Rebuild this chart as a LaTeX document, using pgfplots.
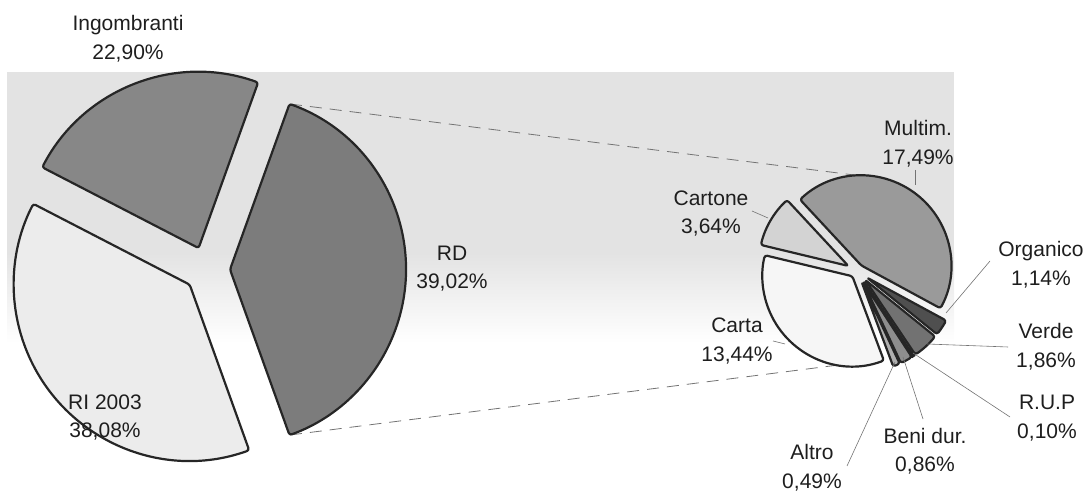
\documentclass[border=0pt]{standalone}
\usepackage{pgfplots}
\pgfplotsset{compat=1.18}
\usepackage{fontspec}
\setmainfont{Liberation Sans}

\definecolor{outl}{HTML}{262626}
\definecolor{txt}{HTML}{1E1E1E}
\definecolor{cRD}{HTML}{7C7C7C}
\definecolor{cRI}{HTML}{ECECEC}
\definecolor{cIng}{HTML}{878787}
\definecolor{cMul}{HTML}{9A9A9A}
\definecolor{cCartone}{HTML}{D3D3D3}
\definecolor{cCarta}{HTML}{F6F6F6}
\definecolor{cOrg}{HTML}{4F4F4F}
\definecolor{cVerde}{HTML}{727272}
\definecolor{cRUP}{HTML}{333333}
\definecolor{cBeni}{HTML}{8E8E8E}
\definecolor{cAltro}{HTML}{B0B0B0}

\newcommand\lbl{\fontsize{21bp}{28.5bp}\selectfont}
\def\curang{0}
\def\pietotal{100}
% #1 cx, #2 cy, #3 radius, #4 value, #5 explode, #6 colour
\newcommand{\pieslice}[6]{%
  \pgfmathsetmacro\sweep{360*#4/\pietotal}%
  \pgfmathsetmacro\aend{\curang-\sweep}%
  \pgfmathsetmacro\amid{\curang-\sweep/2}%
  \pgfmathsetmacro\ax{#1+#5*cos(\amid)}%
  \pgfmathsetmacro\ay{#2+#5*sin(\amid)}%
  \pgfmathsetmacro\bx{\ax+#3*cos(\curang)}%
  \pgfmathsetmacro\by{\ay+#3*sin(\curang)}%
  \edef\tmp{\noexpand\filldraw[fill=#6,draw=outl,line width=2.2bp,line join=round,rounded corners=2.5bp]
    (axis cs:\ax,\ay) -- (axis cs:\bx,\by) arc[start angle=\curang,end angle=\aend,radius=#3bp] -- cycle;}%
  \tmp
  \xdef\curang{\aend}%
}

\begin{document}
\begin{tikzpicture}
\begin{axis}[
  width=1087bp, height=493bp, scale only axis,
  xmin=0, xmax=1087, ymin=0, ymax=493,
  hide axis, clip=false,
]
\path (axis cs:0,0) rectangle (axis cs:1087,493);
% scanned grey band
\fill[black!11] (axis cs:7,421) rectangle (axis cs:954,240);
\shade[top color=black!11, bottom color=white] (axis cs:7,240.2) rectangle (axis cs:954,150);

% connecting dashed lines
\draw[black!55, line width=0.8bp, dash pattern=on 12bp off 8bp] (axis cs:290,389) -- (axis cs:862,317);
\draw[black!55, line width=0.8bp, dash pattern=on 12bp off 8bp] (axis cs:290,58) -- (axis cs:862,131);

% left pie (total 100), clockwise from 70.23 deg
\def\pietotal{100}
\gdef\curang{70.23}
\pieslice{207}{223.5}{176}{39.02}{23}{cRD}
\pieslice{207}{223.5}{176}{38.08}{23}{cRI}
\pieslice{207}{223.5}{176}{22.90}{23}{cIng}

% right pie (breakdown of RD = 39.02)
\def\pietotal{39.02}
\gdef\curang{166.5}
\pieslice{857}{222}{90}{3.64}{10}{cCartone}
\pieslice{857}{222}{90}{17.49}{7}{cMul}
\pieslice{857}{222}{90}{1.14}{12}{cOrg}
\pieslice{857}{222}{90}{1.86}{12}{cVerde}
\pieslice{857}{222}{90}{0.10}{12}{cRUP}
\pieslice{857}{222}{90}{0.86}{12}{cBeni}
\pieslice{857}{222}{90}{0.49}{12}{cAltro}
\pieslice{857}{222}{90}{13.44}{7}{cCarta}

% leader lines
\draw[black!55, line width=0.6bp] (axis cs:915,323) -- (axis cs:915,308);
\draw[black!55, line width=0.6bp] (axis cs:752,282) -- (axis cs:768,275);
\draw[black!55, line width=0.6bp] (axis cs:990,232) -- (axis cs:946,180);
\draw[black!55, line width=0.6bp] (axis cs:927,149) -- (axis cs:1008,146);
\draw[black!55, line width=0.6bp] (axis cs:913,140) -- (axis cs:1010,76);
\draw[black!55, line width=0.6bp] (axis cs:903,136) -- (axis cs:923,74);
\draw[black!55, line width=0.6bp] (axis cs:895,131) -- (axis cs:847,27);
\draw[black!55, line width=0.6bp] (axis cs:773,152) -- (axis cs:785,149);

% labels
\node[font=\lbl, align=center, text=txt] at (axis cs:128,454.5) {Ingombranti\\22,90\%};
\node[font=\lbl, align=center, text=txt] at (axis cs:452,224.5) {RD\\39,02\%};
\node[font=\lbl, align=center, text=txt] at (axis cs:105,75.5) {RI 2003\\38,08\%};
\node[font=\lbl, align=center, text=txt] at (axis cs:918,349.5) {Multim.\\17,49\%};
\node[font=\lbl, align=center, text=txt] at (axis cs:711,279.5) {Cartone\\3,64\%};
\node[font=\lbl, align=center, text=txt] at (axis cs:737,152) {Carta\\13,44\%};
\node[font=\lbl, align=center, text=txt] at (axis cs:1041,228.5) {Organico\\1,14\%};
\node[font=\lbl, align=center, text=txt] at (axis cs:1046,146.5) {Verde\\1,86\%};
\node[font=\lbl, align=center, text=txt] at (axis cs:1047,75) {R.U.P\\0,10\%};
\node[font=\lbl, align=center, text=txt] at (axis cs:925,42) {Beni dur.\\0,86\%};
\node[font=\lbl, align=center, text=txt] at (axis cs:812,25.5) {Altro\\0,49\%};
\end{axis}
\end{tikzpicture}
\end{document}
